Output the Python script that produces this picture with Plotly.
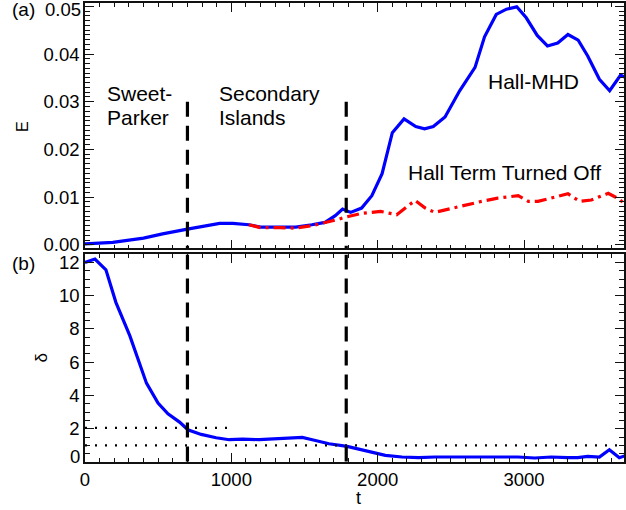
import plotly.graph_objects as go

# ---------------- data ----------------
t_hall = [0, 190, 400, 530, 700, 800, 920, 1010, 1120, 1200, 1330, 1440, 1550, 1640, 1710,
          1760, 1815, 1890, 1960, 2030, 2100, 2180, 2260, 2320, 2380, 2460, 2560, 2665, 2730,
          2810, 2880, 2950, 3015, 3090, 3160, 3230, 3300, 3370, 3435, 3515, 3585, 3660, 3700]
E_hall = [0.0002, 0.0005, 0.0014, 0.0023, 0.0033, 0.0038, 0.0045, 0.0045, 0.0042, 0.0037,
          0.0037, 0.0037, 0.0042, 0.0047, 0.0061, 0.0075, 0.0068, 0.0077, 0.0103, 0.0149,
          0.0235, 0.0264, 0.0248, 0.0243, 0.0248, 0.0268, 0.0323, 0.0372, 0.0436, 0.0483,
          0.0494, 0.0499, 0.0476, 0.0439, 0.0417, 0.0423, 0.0441, 0.0429, 0.0396, 0.0347,
          0.0323, 0.0356, 0.0350]

t_nohall = [1120, 1200, 1330, 1440, 1550, 1640, 1715, 1780, 1890, 2020, 2130, 2255, 2325,
            2390, 2550, 2710, 2820, 2960, 3030, 3095, 3185, 3300, 3380, 3460, 3575, 3650, 3700]
E_nohall = [0.0042, 0.0036, 0.0036, 0.0035, 0.0040, 0.0046, 0.0052, 0.0058, 0.0066, 0.0070,
            0.0063, 0.0093, 0.0077, 0.0068, 0.0080, 0.0091, 0.0098, 0.0103, 0.0091, 0.0091,
            0.0098, 0.0107, 0.0091, 0.0094, 0.0108, 0.0096, 0.0082]

t_delta = [0, 68, 143, 211, 306, 420, 499, 567, 646, 703, 794, 896, 986, 1077, 1190, 1327,
           1440, 1485, 1553, 1667, 1791, 1916, 1973, 2052, 2166, 2279, 2392, 2506, 2619, 2732,
           2846, 2959, 3073, 3186, 3299, 3367, 3435, 3515, 3583, 3651, 3700]
delta = [12.0, 12.2, 11.56, 9.6, 7.6, 4.74, 3.54, 2.9, 2.4, 1.94, 1.66, 1.46, 1.34, 1.38,
         1.34, 1.42, 1.48, 1.48, 1.34, 1.10, 0.94, 0.70, 0.60, 0.40, 0.30, 0.26, 0.30, 0.30,
         0.30, 0.26, 0.26, 0.30, 0.24, 0.30, 0.26, 0.26, 0.34, 0.30, 0.74, 0.26, 0.40]

phase_boundaries = [700, 1785]
dotted_levels = [2.05, 1.0]
dotted_ends = [1000, 3700]
x_ticks = [0, 1000, 2000, 3000]
E_ticks = [0.0, 0.01, 0.02, 0.03, 0.04, 0.05]
E_ticklabels = ["0.00", "0.01", "0.02", "0.03", "0.04", ""]   # "0.05" drawn separately (edge label)
d_ticks = [0, 2, 4, 6, 8, 10, 12]
d_ticklabels = ["", "2", "4", "6", "8", "10", "12"]          # "0" drawn separately, lifted as in the original

# ---------------- figure ----------------
FONT = "Liberation Sans, Arial, Helvetica, sans-serif"
AX = "#111111"
X_RANGE = [0, 3683]
E_RANGE = [-0.00077, 0.0507]
D_RANGE = [0, 12.48]

fig = go.Figure()
fig.add_trace(go.Scatter(x=t_hall, y=E_hall, mode="lines", xaxis="x", yaxis="y",
                         line=dict(color="#0000ff", width=3.2)))
fig.add_trace(go.Scatter(x=t_nohall, y=E_nohall, mode="lines", xaxis="x", yaxis="y",
                         line=dict(color="#ff0000", width=3.2, dash="12px,5px,3px,5px")))
fig.add_trace(go.Scatter(x=t_delta, y=delta, mode="lines", xaxis="x2", yaxis="y2",
                         line=dict(color="#0000ff", width=3.2)))

shapes = []
for tb in phase_boundaries:
    shapes.append(dict(type="line", xref="x", yref="y", x0=tb, x1=tb, y0=0.03, y1=E_RANGE[0],
                       line=dict(color="black", width=3.2, dash="15px,9px")))
    shapes.append(dict(type="line", xref="x2", yref="y2", x0=tb, x1=tb, y0=D_RANGE[1], y1=D_RANGE[0],
                       line=dict(color="black", width=3.2, dash="15px,9px")))
for lvl, xe in zip(dotted_levels, dotted_ends):
    shapes.append(dict(type="line", xref="x2", yref="y2", x0=0, x1=xe, y0=lvl, y1=lvl,
                       line=dict(color="black", width=2.2, dash="2px,8px")))

common_axis = dict(showline=True, linecolor=AX, linewidth=1.6, mirror="allticks",
                   ticks="inside", tickcolor=AX, tickwidth=1.2, ticklen=9,
                   showgrid=False, zeroline=False,
                   tickfont=dict(family=FONT, size=18.5, color="black"))

fig.update_layout(
    width=626, height=510,
    margin=dict(l=85, r=0, t=2, b=48),
    plot_bgcolor="white", paper_bgcolor="white",
    showlegend=False,
    xaxis=dict(domain=[0, 1], anchor="y", range=X_RANGE, tickvals=x_ticks,
               showticklabels=False,
               minor=dict(dtick=100, tick0=0, ticks="inside", ticklen=4, tickcolor=AX),
               **common_axis),
    yaxis=dict(domain=[0.4652, 1], anchor="x", range=E_RANGE,
               tickvals=E_ticks, ticktext=E_ticklabels,
               minor=dict(dtick=0.001, tick0=0, ticks="inside", ticklen=5, tickcolor=AX),
               **common_axis),
    xaxis2=dict(domain=[0, 1], anchor="y2", range=X_RANGE, tickvals=x_ticks,
                minor=dict(dtick=100, tick0=0, ticks="inside", ticklen=4, tickcolor=AX),
                **common_axis),
    yaxis2=dict(domain=[0, 0.4522], anchor="x2", range=D_RANGE,
                tickvals=d_ticks, ticktext=d_ticklabels,
                minor=dict(dtick=0.5, tick0=0, ticks="inside", ticklen=5, tickcolor=AX),
                **common_axis),
    shapes=shapes,
)

txt = dict(family=FONT, size=21, color="black")
anns = [
    dict(x=136, y=0.03172, text="Sweet-"),
    dict(x=136, y=0.02670, text="Parker"),
    dict(x=905, y=0.03172, text="Secondary"),
    dict(x=905, y=0.02670, text="Islands"),
    dict(x=2743, y=0.03417, text="Hall-MHD"),
    dict(x=2190, y=0.01506, text="Hall Term Turned Off"),
]
for a in anns:
    fig.add_annotation(xref="x", yref="y", xanchor="left", yanchor="middle",
                       showarrow=False, font=txt, **a)

tickf = dict(family=FONT, size=18.5, color="black")
small = dict(family=FONT, size=19, color="black")
fig.add_annotation(xref="paper", yref="paper", x=-0.1386, y=0.9848, text="(a)",
                   xanchor="left", yanchor="middle", showarrow=False, font=small)
fig.add_annotation(xref="paper", yref="paper", x=-0.1386, y=0.4326, text="(b)",
                   xanchor="left", yanchor="middle", showarrow=False, font=small)
fig.add_annotation(xref="paper", yref="paper", x=-0.0055, y=0.9848, text="0.05",
                   xanchor="right", yanchor="middle", showarrow=False, font=tickf,
                   borderpad=0)
fig.add_annotation(xref="paper", yref="paper", x=-0.0055, y=0.013, text="0",
                   xanchor="right", yanchor="middle", showarrow=False, font=tickf)
fig.add_annotation(xref="paper", yref="paper", x=-0.1146, y=0.7304, text="E", textangle=-90,
                   xanchor="center", yanchor="middle", showarrow=False,
                   font=dict(family=FONT, size=16, color="black"))
fig.add_annotation(xref="paper", yref="paper", x=-0.0813, y=0.2261, text="δ", textangle=-90,
                   xanchor="center", yanchor="middle", showarrow=False,
                   font=dict(family=FONT, size=17, color="black"))
fig.add_annotation(xref="paper", yref="paper", x=0.5065, y=-0.0783, text="t",
                   xanchor="center", yanchor="middle", showarrow=False,
                   font=dict(family=FONT, size=18, color="black"))

fig.write_html("out.html")
